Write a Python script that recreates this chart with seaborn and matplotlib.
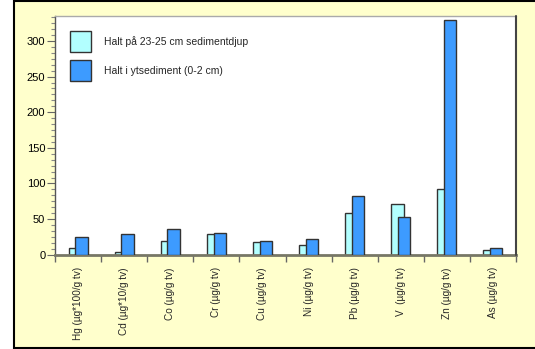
import matplotlib
matplotlib.use("Agg")
import matplotlib.pyplot as plt
import seaborn as sns
import pandas as pd
from matplotlib.patches import Patch, Rectangle
from matplotlib.lines import Line2D
from matplotlib.ticker import MultipleLocator, AutoMinorLocator, FixedLocator, NullFormatter

categories = ["Hg (µg*100/g tv)", "Cd (µg*10/g tv)", "Co (µg/g tv)", "Cr (µg/g tv)",
              "Cu (µg/g tv)", "Ni (µg/g tv)", "Pb (µg/g tv)", "V  (µg/g tv)",
              "Zn (µg/g tv)", "As (µg/g tv)"]
deep = [9, 4, 19, 28.5, 17.5, 13, 58, 71, 92.5, 6]
surface = [25.5, 29.5, 36, 31, 19.5, 22.5, 82, 53, 329, 9.5]
series_names = ["Halt på 23-25 cm sedimentdjup", "Halt i ytsediment (0-2 cm)"]

light_col = "#B2FFFF"
blue_col = "#3D9BFF"
edge_col = "#333333"
bg_col = "#FFFFCC"

sns.set_theme(style="white")
plt.rcParams['font.family'] = ['Liberation Sans', 'DejaVu Sans']
plt.rcParams['axes.grid'] = False

fig = plt.figure(figsize=(5.35, 3.49), dpi=100)
fig.patch.set_facecolor(bg_col)
W, H = 535, 349
x0 = 13.5 / W
fig.add_artist(Rectangle((0, 0), x0, 1, transform=fig.transFigure, facecolor="white",
                         edgecolor="none", zorder=0))

ax = fig.add_axes([55 / W, (H - 254.7) / H, (516 - 55) / W, (254.7 - 16) / H])
ax.set_facecolor("white")

df_deep = pd.DataFrame({"cat": categories, "val": deep})
df_surf = pd.DataFrame({"cat": categories, "val": surface})

bw = 0.267
off = 0.072
sns.barplot(data=df_deep, x="cat", y="val", color=light_col, width=bw, errorbar=None,
            edgecolor=edge_col, linewidth=1.0, saturation=1, ax=ax, zorder=2)
n1 = len(ax.patches)
for p in ax.patches:
    p.set_x(p.get_x() - off)
sns.barplot(data=df_surf, x="cat", y="val", color=blue_col, width=bw, errorbar=None,
            edgecolor=edge_col, linewidth=1.0, saturation=1, ax=ax, zorder=3)
for p in ax.patches[n1:]:
    p.set_x(p.get_x() + off)

ax.set_xlim(-0.5, len(categories) - 0.5)
ax.set_ylim(0, 335)
ax.set_xlabel("")
ax.set_ylabel("")
ax.grid(False, which="both")

ax.yaxis.set_major_locator(MultipleLocator(50))
ax.yaxis.set_minor_locator(AutoMinorLocator(6))
ax.tick_params(axis="y", which="major", length=6, width=0.8,
               color="#666666", labelsize=8, pad=1, labelcolor="black")
ax.tick_params(axis="y", which="minor", length=3, width=0.8, color="#888888")

xs = list(range(len(categories)))
ax.xaxis.set_major_locator(FixedLocator([i - 0.5 for i in range(len(categories) + 1)]))
ax.xaxis.set_major_formatter(NullFormatter())
ax.xaxis.set_minor_locator(FixedLocator(xs))
ax.set_xticklabels(categories, minor=True, rotation=90, fontsize=7.2)
ax.tick_params(axis="x", which="major", length=5, width=1.0, color="#666666")
ax.tick_params(axis="x", which="minor", length=0, pad=9)
ax.tick_params(which="both", top=False, right=False, labeltop=False, labelright=False,
               bottom=True, left=True, direction="out")

for side, col, lw in [("left", "#555555", 1.0), ("bottom", "#777766", 2.0)]:
    ax.spines[side].set_color(col)
    ax.spines[side].set_linewidth(lw)
ax.spines["top"].set_visible(False)
ax.spines["right"].set_visible(False)
# plot-area frame: light top edge, dark right edge
ax.add_artist(Line2D([0, 1], [1, 1], transform=ax.transAxes, color="#AAAAAA",
                     linewidth=1.0, clip_on=False, zorder=10))
ax.add_artist(Line2D([1, 1], [0, 1], transform=ax.transAxes, color="#444444",
                     linewidth=1.5, clip_on=False, zorder=10))

handles = [Patch(facecolor=light_col, edgecolor=edge_col, linewidth=1.0),
           Patch(facecolor=blue_col, edgecolor=edge_col, linewidth=1.0)]
ax.legend(handles, series_names, loc="upper left", bbox_to_anchor=(0.0325, 0.937),
          frameon=False, fontsize=7.5, handlelength=2.0, handleheight=2.7,
          labelspacing=0.8, handletextpad=1.25, borderaxespad=0, borderpad=0)

for xd, yd in [([x0, x0], [0, 1]), ([x0, 1], [1 - 0.7 / H, 1 - 0.7 / H]),
               ([x0, 1], [1.5 / H, 1.5 / H])]:
    fig.add_artist(Line2D(xd, yd, transform=fig.transFigure, color="black", linewidth=1.5))

fig.savefig("out.png", dpi=100, facecolor=bg_col)
